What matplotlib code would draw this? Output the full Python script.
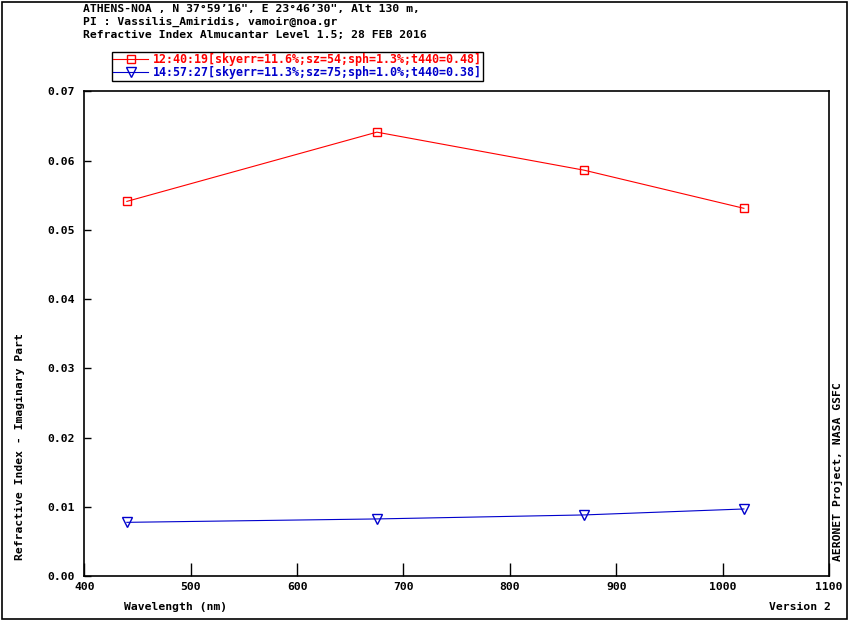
import matplotlib
matplotlib.use("Agg")
import matplotlib.pyplot as plt
from matplotlib.patches import Rectangle
from matplotlib.ticker import FormatStrFormatter, MultipleLocator

wavelengths = [440, 675, 870, 1020]
series1_vals = [0.0541, 0.0641, 0.0586, 0.0531]
series2_vals = [0.00775, 0.00824, 0.00882, 0.00968]
series1_label = "12:40:19[skyerr=11.6%;sz=54;sph=1.3%;t440=0.48]"
series2_label = "14:57:27[skyerr=11.3%;sz=75;sph=1.0%;t440=0.38]"
title_lines = [
    "ATHENS-NOA , N 37°59’16\", E 23°46’30\", Alt 130 m,",
    "PI : Vassilis_Amiridis, vamoir@noa.gr",
    "Refractive Index Almucantar Level 1.5; 28 FEB 2016",
]
xlabel = "Wavelength (nm)"
ylabel = "Refractive Index - Imaginary Part"
right_note = "AERONET Project, NASA GSFC"
version_note = "Version 2"

RED = "#ff0000"
BLUE = "#0000cc"
FONT = ["DejaVu Sans Mono"]
FS = 8.2
LFS = 8.4

plt.rcParams["font.family"] = FONT
plt.rcParams["font.weight"] = "bold"

W, H = 850, 620
fig = plt.figure(figsize=(W / 100, H / 100), dpi=100)
ax = fig.add_axes([84.3 / W, 1 - 576 / H, (829 - 84.3) / W, (576 - 91.3) / H])

lw = 0.8
l1, = ax.plot(wavelengths, series1_vals, color=RED, lw=lw, marker="s", ms=6,
              mfc="none", mec=RED, mew=1.0)
l2, = ax.plot(wavelengths, series2_vals, color=BLUE, lw=lw, marker="v", ms=7,
              mfc="none", mec=BLUE, mew=1.0)

ax.set_xlim(400, 1100)
ax.set_ylim(0, 0.07)
ax.xaxis.set_major_locator(MultipleLocator(100))
ax.yaxis.set_major_locator(MultipleLocator(0.01))
ax.yaxis.set_major_formatter(FormatStrFormatter("%.2f"))
ax.tick_params(axis="x", direction="in", length=9.4, width=1, pad=4.5,
               labelsize=FS, top=False)
ax.tick_params(axis="y", direction="in", length=5, width=1, pad=6.5,
               labelsize=FS, right=False)
for lab in ax.get_xticklabels() + ax.get_yticklabels():
    lab.set_fontweight("bold")
for s in ax.spines.values():
    s.set_linewidth(1.2)

# titles
for i, t in enumerate(title_lines):
    fig.text(83 / W, 1 - (9 + 13 * i) / H, t, ha="left", va="center",
             fontsize=FS, fontweight="bold", family=FONT)

fig.text(124 / W, 1 - 607 / H, xlabel, ha="left", va="center", fontsize=FS,
         fontweight="bold", family=FONT)
fig.text(831 / W, 1 - 607 / H, version_note, ha="right", va="center",
         fontsize=FS, fontweight="bold", family=FONT)
fig.text(20 / W, 1 - 447 / H, ylabel, ha="center", va="center", rotation=90,
         fontsize=FS, fontweight="bold", family=FONT)
fig.text(837 / W, 1 - 472 / H, right_note, ha="center", va="center",
         rotation=90, fontsize=FS, fontweight="bold", family=FONT)

leg = fig.legend([l1, l2], [series1_label, series2_label],
                 loc="upper left", bbox_to_anchor=(112 / W, 1 - 52 / H),
                 bbox_transform=fig.transFigure,
                 prop={"family": FONT, "weight": "bold", "size": LFS},
                 frameon=True, fancybox=False, borderpad=0.12,
                 labelspacing=0.0, handlelength=3.0, handletextpad=0.35,
                 borderaxespad=0, edgecolor="black", framealpha=1)
leg.get_frame().set_linewidth(1.0)
leg.get_texts()[0].set_color(RED)
leg.get_texts()[1].set_color(BLUE)

fig.patches.append(Rectangle((2 / W, 1.5 / H), 845 / W, 616.5 / H,
                             transform=fig.transFigure, fill=False,
                             edgecolor="black", lw=1.2))

fig.savefig("out.png", dpi=100)
